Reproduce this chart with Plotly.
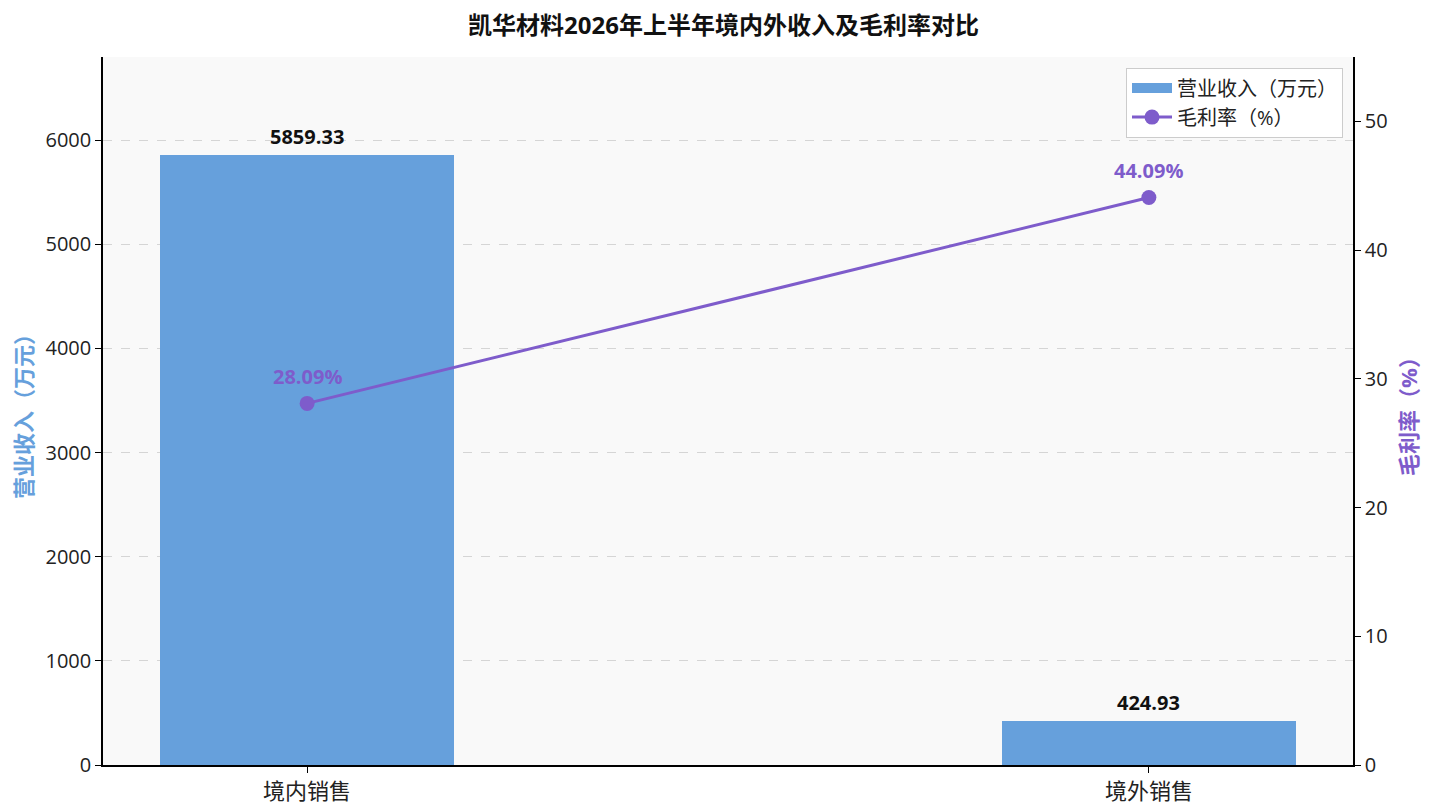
import plotly.graph_objects as go

categories = ["境内销售", "境外销售"]
revenue = [5859.33, 424.93]
margin_pct = [28.09, 44.09]

title = "凯华材料2026年上半年境内外收入及毛利率对比"
bar_name = "营业收入（万元）"
line_name = "毛利率（%）"

BAR_COLOR = "#66A0DC"
LINE_COLOR = "#7E5CCB"
FONT = "Open Sans, Noto Sans CJK SC"

x_idx = list(range(len(categories)))

fig = go.Figure()
fig.add_trace(go.Bar(
    x=x_idx, y=revenue, width=0.35, name=bar_name, showlegend=False,
    marker=dict(color=BAR_COLOR, line=dict(width=0)),
    yaxis="y",
))
# legend entry for the bars (wide rectangle swatch)
fig.add_trace(go.Scatter(
    x=[None], y=[None], name=bar_name, mode="lines",
    line=dict(color=BAR_COLOR, width=13), yaxis="y", hoverinfo="skip",
))
fig.add_trace(go.Scatter(
    x=x_idx, y=margin_pct, name=line_name, mode="lines+markers",
    line=dict(color=LINE_COLOR, width=3),
    marker=dict(size=15, color=LINE_COLOR),
    yaxis="y2",
))

for xi, v in zip(x_idx, revenue):
    fig.add_annotation(x=xi, y=v, xref="x", yref="y", text=f"<b>{v:.2f}</b>",
                       showarrow=False, yshift=18,
                       font=dict(family=FONT, size=20, color="#111111"))
for xi, v in zip(x_idx, margin_pct):
    fig.add_annotation(x=xi, y=v, xref="x", yref="y2", text=f"<b>{v:.2f}%</b>",
                       showarrow=False, yshift=27,
                       font=dict(family=FONT, size=20, color=LINE_COLOR))

fig.update_layout(
    width=1431, height=806,
    margin=dict(l=95, r=86, t=49, b=49, autoexpand=False),
    paper_bgcolor="white", plot_bgcolor="#F9F9F9",
    font=dict(family=FONT, size=16, color="#222222"),
    title=dict(text=f"<b>{title}</b>", x=0.5, xanchor="center", yref="container",
               y=0.978, yanchor="middle",
               font=dict(family=FONT, size=24, color="#111111")),
    showlegend=True,
    legend=dict(x=0.992, y=0.985, xanchor="right", yanchor="top",
                bgcolor="rgba(255,255,255,0.9)", bordercolor="#CCCCCC", borderwidth=1,
                font=dict(family=FONT, size=20, color="#222222"),
                itemwidth=40, tracegroupgap=2),
    xaxis=dict(
        range=[-0.2425, 1.2425], tickmode="array", tickvals=x_idx, ticktext=categories,
        showline=True, linecolor="black", linewidth=1.5, ticks="outside", ticklen=6,
        tickcolor="black", showgrid=False, zeroline=False, automargin=False,
        tickfont=dict(family=FONT, size=22, color="#222222"),
    ),
    yaxis=dict(
        range=[0, 5859.33 * 1.16], dtick=1000, tick0=0, automargin=False,
        showline=True, linecolor="black", linewidth=1.5, ticks="outside", ticklen=6,
        tickcolor="black", showgrid=True, gridcolor="#D5D5D5", griddash="dash", gridwidth=1,
        zeroline=False,
        title=dict(text=f"<b>{bar_name}</b>", font=dict(family=FONT, size=22, color=BAR_COLOR), standoff=18),
        tickfont=dict(family=FONT, size=20, color="#222222"),
    ),
    yaxis2=dict(
        range=[0, 55], dtick=10, tick0=0, overlaying="y", side="right", automargin=False,
        showline=True, linecolor="black", linewidth=1.5, ticks="outside", ticklen=6,
        tickcolor="black", showgrid=False, zeroline=False,
        title=dict(text=f"<b>{line_name}</b>", font=dict(family=FONT, size=22, color=LINE_COLOR), standoff=15),
        tickfont=dict(family=FONT, size=20, color="#222222"),
    ),
    bargap=0,
)

fig.write_html("out.html")
